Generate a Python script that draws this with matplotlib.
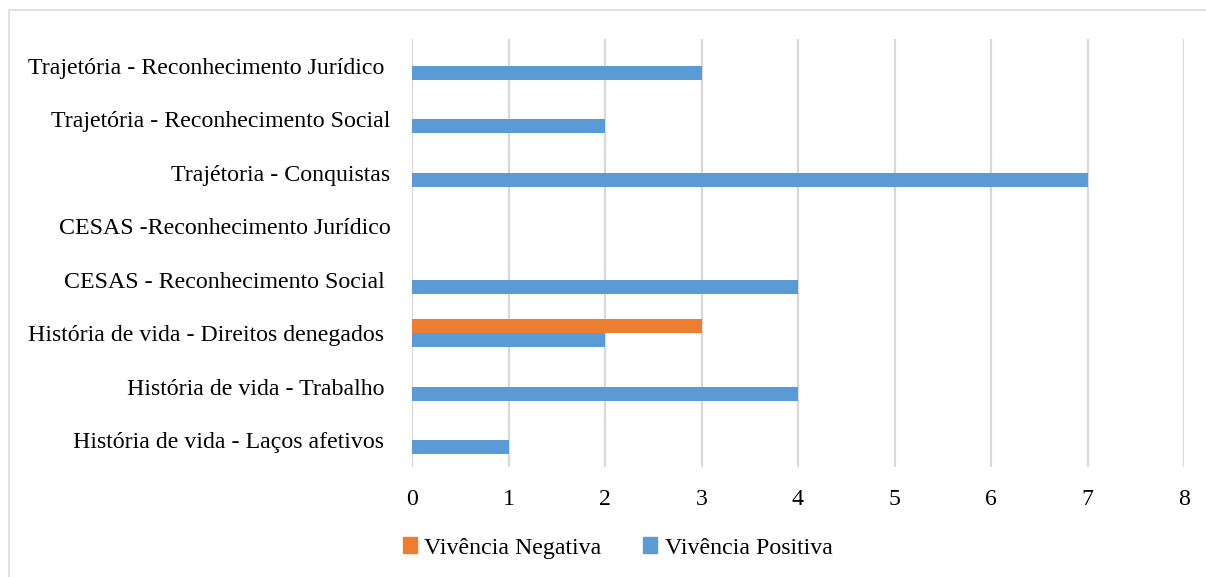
import matplotlib
matplotlib.use("Agg")
import matplotlib.pyplot as plt
from matplotlib.patches import Rectangle, Patch
import numpy as np

categories = [
    "Trajetória - Reconhecimento Jurídico ",
    "Trajetória - Reconhecimento Social",
    "Trajétoria - Conquistas",
    "CESAS -Reconhecimento Jurídico",
    "CESAS - Reconhecimento Social ",
    "História de vida - Direitos denegados ",
    "História de vida - Trabalho ",
    "História de vida - Laços afetivos ",
]
negativa = [0, 0, 0, 0, 0, 3, 0, 0]
positiva = [3, 2, 7, 0, 4, 2, 4, 1]
xticks = [0, 1, 2, 3, 4, 5, 6, 7, 8]
series_names = ["Vivência Negativa", "Vivência Positiva"]

plt.rcParams["font.family"] = ["Liberation Serif", "DejaVu Serif"]

W, H = 1206, 577
fig = plt.figure(figsize=(W / 100, H / 100), dpi=100)
ax = fig.add_axes([412 / W, 1 - 467 / H, (1184 - 412) / W, (467 - 39) / H])

orange = "#ED7D31"
blue = "#5B9BD5"
fs = 17.2
y = np.arange(len(categories))
h = 0.26
ax.barh(y - h / 2, negativa, height=h, color=orange, zorder=3)
ax.barh(y + h / 2, positiva, height=h, color=blue, zorder=3)

ax.set_ylim(len(categories) - 0.5, -0.5)
ax.set_xlim(0, 8)
ax.set_xticks(xticks)
ax.set_xticklabels([str(t) for t in xticks])
ax.set_yticks(y)
ax.set_yticklabels(categories)
ax.tick_params(axis="both", length=0, labelsize=fs, colors="black")
ax.tick_params(axis="x", pad=16)
ax.tick_params(axis="y", pad=15.5)
ax.grid(axis="x", color="#D9D9D9", linewidth=1.6, zorder=0)
ax.set_axisbelow(True)
for s in ax.spines.values():
    s.set_visible(False)

handles = [Patch(color=orange), Patch(color=blue)]
fig.legend(handles, series_names, loc="center", bbox_to_anchor=(0.512, 1 - 548 / H),
           ncol=2, frameon=False, fontsize=fs, handlelength=0.6, handleheight=0.6,
           handletextpad=0.3, columnspacing=1.75)

fig.patches.append(Rectangle((9 / W, -0.01), 1.0, 1 - 10 / H + 0.01, transform=fig.transFigure,
                             fill=False, edgecolor="#D9D9D9", linewidth=1.2))

fig.savefig("out.png", dpi=100, facecolor="white")
